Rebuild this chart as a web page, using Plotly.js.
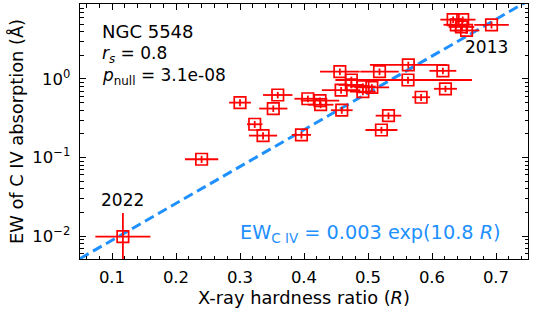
<!DOCTYPE html>
<html><head><meta charset="utf-8">
<script src="https://cdn.plot.ly/plotly-3.0.1.min.js"></script>
<style>html,body{margin:0;padding:0;background:#fff;}#chart{width:533px;height:310px;}</style>
</head><body><div id="chart"></div>
<script>
// hardness ratio R, its error, EW of C IV (Å), its error
const hardness = [0.117,0.240,0.300,0.323,0.336,0.352,0.359,0.396,0.406,0.425,0.426,0.456,0.458,0.459,0.474,0.474,0.492,0.492,0.506,0.518,0.521,0.532,0.563,0.5625,0.583,0.617,0.621,0.633,0.648,0.638,0.646,0.654,0.693];
const hardnessErr = [0.043,0.026,0.017,0.012,0.022,0.022,0.023,0.015,0.021,0.030,0.020,0.031,0.030,0.017,0.025,0.020,0.020,0.020,0.027,0.030,0.025,0.020,0.060,0.100,0.014,0.021,0.018,0.020,0.020,0.020,0.020,0.020,0.027];
const ewCIV = [0.0098,0.095,0.50,0.265,0.19,0.42,0.625,0.194,0.56,0.53,0.47,1.24,0.72,0.40,0.97,0.84,0.80,0.69,0.78,1.24,0.224,0.341,1.51,0.97,0.585,1.27,0.75,5.7,5.7,4.9,4.6,4.15,4.9];
const ewErrPlus = [0.0098,0.010,0.05,0.027,0.02,0.04,0.06,0.02,0.055,0.05,0.045,0.12,0.07,0.04,0.10,0.08,0.08,0.07,0.08,0.12,0.022,0.034,0.15,0.10,0.06,0.12,0.07,0.55,0.55,0.5,0.45,0.4,0.5];
const ewErrMinus = [0.0094,0.010,0.05,0.027,0.02,0.04,0.06,0.02,0.055,0.05,0.045,0.12,0.07,0.04,0.10,0.08,0.08,0.07,0.08,0.12,0.022,0.034,0.15,0.10,0.06,0.12,0.07,0.55,0.55,0.5,0.45,0.4,0.5];
// fit: EW = 0.003 exp(10.8 R)
const fitAmp = 0.003, fitSlope = 10.8;
const fitR = [0.05, 0.75];
const yTickVals = [0.01, 0.1, 1];
const yTickText = ['10<sup>−2</sup>','10<sup>−1</sup>','10<sup>0</sup>'];

const fitEW = fitR.map(r => fitAmp*Math.exp(fitSlope*r));
const yMinor = [];
[0.001,0.01,0.1,1].forEach(d => { for (let k=2;k<=9;k++) yMinor.push(d*k); });

const font = 'DejaVu Sans, sans-serif';
const data = [
  {x: fitR, y: fitEW, mode:'lines', type:'scatter', line:{color:'#1e90ff', width:3, dash:'10px,5px'}, hoverinfo:'skip'},
  {x: hardness, y: ewCIV, mode:'markers', type:'scatter',
   marker:{symbol:'square-open', size:11.5, color:'#ff0000', line:{width:1.7, color:'#ff0000'}},
   error_x:{type:'data', array:hardnessErr, visible:true, color:'#ff0000', thickness:1.8, width:0},
   error_y:{type:'data', array:ewErrPlus, arrayminus:ewErrMinus, symmetric:false, visible:true, color:'#ff0000', thickness:1.8, width:0}}
];
const layout = {
  width:533, height:310, showlegend:false,
  margin:{l:80, r:5, t:4, b:51},
  paper_bgcolor:'#fff', plot_bgcolor:'#fff',
  font:{family:font, color:'#000', size:16.5},
  xaxis:{range:[0.05,0.75], dtick:0.1, tick0:0, ticks:'inside', ticklen:6, tickwidth:1, tickcolor:'#000',
    showline:true, linewidth:1.3, linecolor:'#000', mirror:'ticks', showgrid:false, zeroline:false,
    minor:{dtick:0.02, tick0:0, ticks:'inside', ticklen:3.5, tickwidth:1, tickcolor:'#000', showgrid:false},
    tickfont:{size:16.5, family:font}, ticklabelstandoff:3,
    title:{text:'X-ray hardness ratio (<i>R</i>)', font:{size:17.8, family:font}, standoff:4}},
  yaxis:{type:'log', range:[-2.293,0.955], tickmode:'array', tickvals:yTickVals, ticktext:yTickText,
    ticks:'inside', ticklen:6, tickwidth:1, tickcolor:'#000',
    showline:true, linewidth:1.3, linecolor:'#000', mirror:'ticks', showgrid:false, zeroline:false,
    minor:{tickmode:'array', tickvals:yMinor, ticks:'inside', ticklen:3.5, tickwidth:1, tickcolor:'#000', showgrid:false},
    tickfont:{size:16.5, family:font}, ticklabelstandoff:5,
    title:{text:'EW of C IV absorption (Å)', font:{size:17.8, family:font}, standoff:4}},
  annotations:[
    {xref:'paper', yref:'paper', x:0.045, y:0.894, xanchor:'left', yanchor:'middle', showarrow:false, text:'NGC 5548', font:{size:18, family:font}},
    {xref:'paper', yref:'paper', x:0.045, y:0.80, xanchor:'left', yanchor:'middle', showarrow:false, text:'<i>r</i><sub><i>s</i></sub> = 0.8', font:{size:17, family:font}},
    {xref:'paper', yref:'paper', x:0.045, y:0.715, xanchor:'left', yanchor:'middle', showarrow:false, text:'<i>p</i><sub>null</sub> = 3.1e-08', font:{size:17, family:font}},
    {x:0.685, y:0.408, showarrow:false, text:'2013', font:{size:17, family:font}},
    {x:0.117, y:-1.541, showarrow:false, text:'2022', font:{size:17, family:font}},
    {xref:'paper', yref:'paper', x:0.945, y:0.1, xanchor:'right', yanchor:'middle', showarrow:false, text:'EW<sub>C IV</sub> = 0.003 exp(10.8 <i>R</i>)', font:{size:19.3, family:font, color:'#1e90ff'}}
  ]
};
Plotly.newPlot('chart', data, layout, {staticPlot:true, displayModeBar:false});
</script></body></html>
